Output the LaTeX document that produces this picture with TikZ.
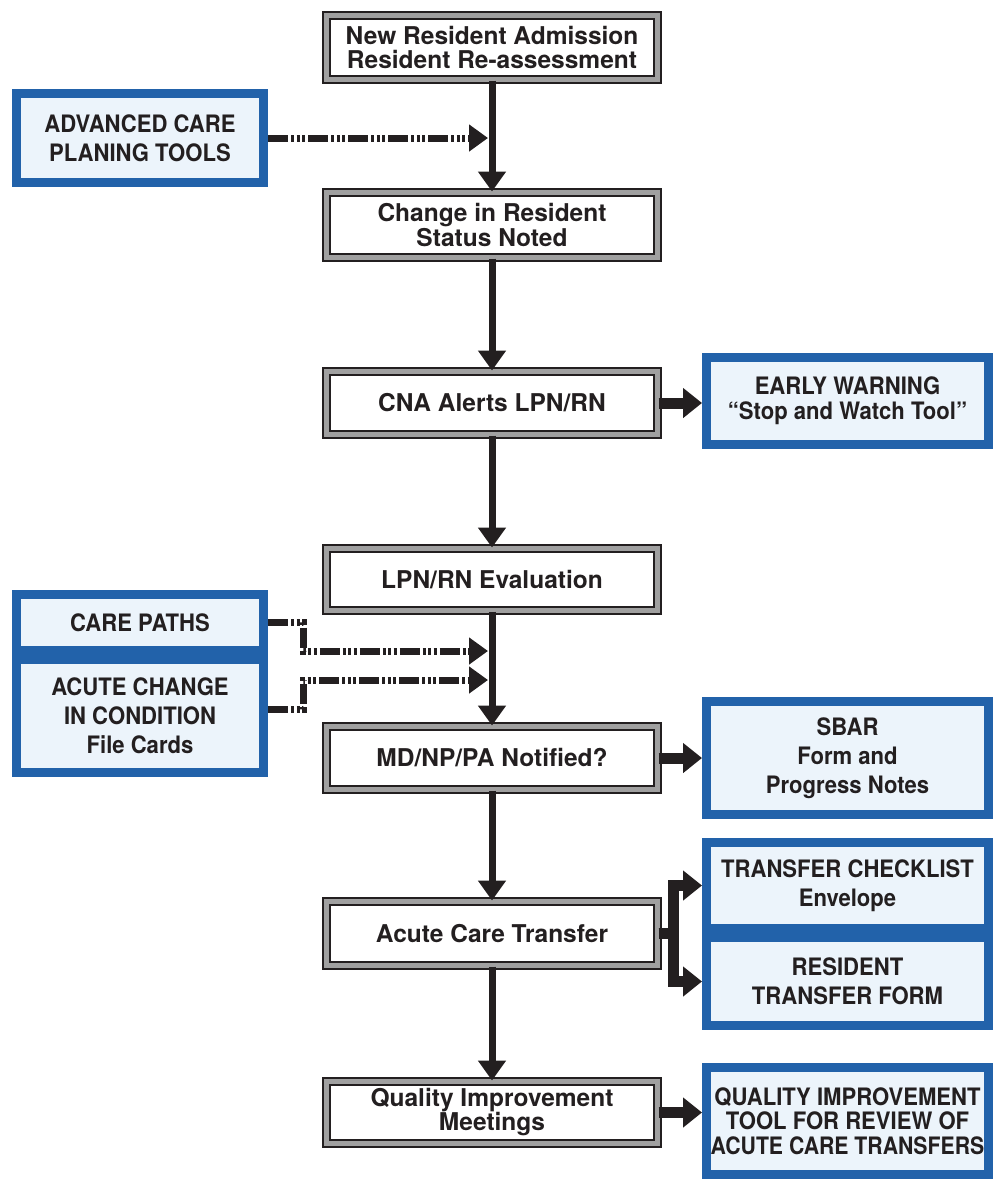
\documentclass[tikz,border=0pt]{standalone}
\usepackage{fontspec}
\newfontfamily\mainf{TeX Gyre Heros}
\newfontfamily\bluef[FakeStretch=0.92]{TeX Gyre Heros}
\newfontfamily\bluen[FakeStretch=0.885]{TeX Gyre Heros}
\usetikzlibrary{arrows.meta,calc}
\definecolor{bborder}{RGB}{34,98,170}
\definecolor{bfill}{RGB}{236,244,251}
\definecolor{gborder}{RGB}{160,160,160}
\definecolor{txt}{RGB}{35,31,32}
\begin{document}
\begin{tikzpicture}[x=1pt,y=-1pt,
 mainbox/.style={draw=txt, line width=2pt, double=gborder, double distance=5pt, fill=white,
   minimum width=331pt, inner sep=0pt, align=center, text=txt,
   font=\mainf\bfseries\fontsize{24.5}{24}\selectfont},
 bluebox/.style={draw=bborder, line width=9pt, fill=bfill, inner sep=0pt, align=center, text=txt,
   minimum width=247pt, font=\bluef\bfseries\fontsize{24}{29}\selectfont},
 rbox/.style={bluebox, minimum width=282pt},
 varrow/.style={draw=txt, line width=7pt, -{Triangle[length=20pt,width=27pt]}},
 harrow/.style={draw=txt, line width=11pt, line join=miter, -{Triangle[length=19pt,width=29pt]}},
 darrow/.style={draw=txt, line width=7pt, line join=miter,
   dash pattern=on 20pt off 3pt on 3pt off 2.5pt on 3pt off 2.5pt on 3pt off 3pt,
   -{Triangle[length=19pt,width=26pt]}},
]
\useasboundingbox (0,0) rectangle (993,1179);

% main flow
\node[mainbox, minimum height=64pt] (b1) at (492,47.5) {New Resident Admission\\Resident Re-assessment};
\node[mainbox, minimum height=65pt, font=\mainf\bfseries\fontsize{24.5}{25}\selectfont] (b2) at (492,225) {Change in Resident\\Status Noted};
\node[mainbox, minimum height=63pt] (b3) at (492,403) {CNA Alerts LPN/RN};
\node[mainbox, minimum height=62pt] (b4) at (492,579.5) {LPN/RN Evaluation};
\node[mainbox, minimum height=63pt] (b5) at (492,758) {MD/NP/PA Notified?};
\node[mainbox, minimum height=64pt] (b6) at (492,933.5) {Acute Care Transfer};
\node[mainbox, minimum height=62pt] (b7) at (492,1112.5) {Quality Improvement\\Meetings};

% blue tool boxes
\node[bluebox, minimum height=89pt] (A) at (140,138) {ADVANCED CARE\\PLANING TOOLS};
\node[bluebox, minimum height=56pt] (B) at (140,622.5) {CARE PATHS};
\node[bluebox, minimum height=113pt] (C) at (140,716) {ACUTE CHANGE\\IN CONDITION\\File Cards};
\node[rbox, minimum height=87pt, font=\bluef\bfseries\fontsize{24}{25}\selectfont] (D) at (847.5,401) {EARLY WARNING\\“Stop and Watch Tool”};
\node[rbox, minimum height=113pt] (E) at (847.5,758) {SBAR\\Form and\\Progress Notes};
\node[rbox, minimum height=86pt] (F) at (847.5,885.5) {TRANSFER CHECKLIST\\Envelope};
\node[rbox, minimum height=88pt] (G) at (847.5,981.5) {RESIDENT\\TRANSFER FORM};
\node[rbox, minimum height=107pt, font=\bluef\bfseries\fontsize{24}{24.5}\selectfont] (H) at (847.5,1121) {QUALITY IMPROVEMENT\\TOOL FOR REVIEW OF\\{\bluen\bfseries ACUTE CARE TRANSFERS}};

% dash-dot connectors
\draw[darrow] (A.east) -- ($(A.east -| b1.south)+(-4,0)$);
\draw[darrow] (B.east) -- ++(35,0) |- ($(b4.south)+(-4,39.5)$);
\draw[darrow] ($(C.east)+(0,-7)$) -- ++(35,0) |- ($(b4.south)+(-4,68.5)$);

% vertical flow arrows
\draw[varrow] (b1.south) -- (b2.north);
\draw[varrow] (b2.south) -- (b3.north);
\draw[varrow] (b3.south) -- (b4.north);
\draw[varrow] (b4.south) -- (b5.north);
\draw[varrow] (b5.south) -- (b6.north);
\draw[varrow] (b6.south) -- (b7.north);

% right arrows
\draw[harrow] (b3.east) -- (b3.east -| D.west);
\draw[harrow] (b5.east) -- (b5.east -| E.west);
\draw[harrow] (b7.east) -- (b7.east -| H.west);
\coordinate (br) at ($(b6.east)+(14.5,0)$);
\draw[harrow] (b6.east) -- (br) |- (F.west);
\draw[harrow] (b6.east) -- (br) |- (G.west);
\end{tikzpicture}
\end{document}
